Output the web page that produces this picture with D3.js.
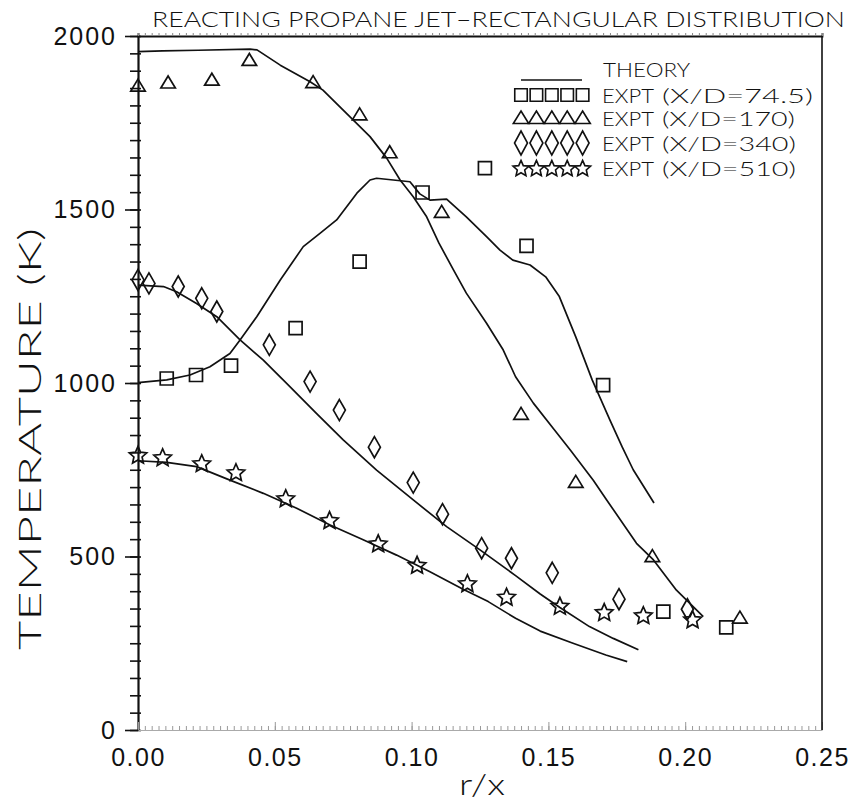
<!DOCTYPE html>
<html>
<head>
<meta charset="utf-8">
<script src="https://cdn.jsdelivr.net/npm/d3@7"></script>
<style>
  body { margin: 0; background: #fff; }
  svg { display: block; font-family: "Lato", "Liberation Sans", Arial, sans-serif; font-weight: 300; }
</style>
</head>
<body>
<svg id="chart"></svg>
<script>
// theory curves (r/x, temperature K)
var rTheory745 = [0, 0.0105, 0.019, 0.0263, 0.0336, 0.0373, 0.0434, 0.052, 0.0604, 0.0665, 0.0726, 0.080, 0.0848, 0.0872, 0.0933, 0.0994, 0.103, 0.1067, 0.1128, 0.120, 0.1274, 0.1323, 0.137, 0.1433, 0.149, 0.154, 0.160, 0.166, 0.1725, 0.177, 0.181, 0.1886];
var tTheory745 = [1001, 1009, 1023, 1047, 1085, 1124, 1191, 1297, 1393, 1431, 1470, 1547, 1585, 1590, 1585, 1580, 1545, 1527, 1530, 1479, 1422, 1383, 1354, 1340, 1306, 1249, 1133, 1009, 893, 815, 750, 654];

var rTheory170 = [0, 0.009, 0.022, 0.041, 0.0435, 0.052, 0.0629, 0.0676, 0.0775, 0.0848, 0.0909, 0.0958, 0.1006, 0.1055, 0.110, 0.1153, 0.120, 0.1274, 0.1335, 0.138, 0.1445, 0.1518, 0.158, 0.1664, 0.1713, 0.1822, 0.1884, 0.1968, 0.2066];
var tTheory170 = [1955, 1957, 1959, 1962, 1960, 1916, 1868, 1844, 1767, 1710, 1648, 1585, 1537, 1479, 1403, 1326, 1259, 1172, 1095, 1018, 942, 869, 807, 720, 663, 538, 490, 403, 327];

var rTheory340 = [0, 0.0093, 0.0141, 0.0214, 0.0288, 0.0373, 0.0458, 0.0556, 0.0653, 0.075, 0.0872, 0.1006, 0.1128, 0.125, 0.138, 0.147, 0.1542, 0.165, 0.1737, 0.1829];
var tTheory340 = [1282, 1278, 1263, 1229, 1191, 1124, 1066, 989, 912, 836, 749, 663, 586, 519, 445, 392, 353, 298, 264, 231];

var rTheory510 = [0, 0.0105, 0.0214, 0.0336, 0.0458, 0.058, 0.0702, 0.0823, 0.0945, 0.1067, 0.119, 0.128, 0.138, 0.147, 0.159, 0.171, 0.1788];
var tTheory510 = [776, 771, 759, 720, 682, 639, 591, 548, 504, 456, 405, 370, 322, 285, 250, 216, 197];

// experiments
var rExpt745 = [0.0105, 0.0212, 0.034, 0.0576, 0.081, 0.104, 0.1268, 0.142, 0.170, 0.192, 0.215];
var tExpt745 = [1013, 1023, 1050, 1158, 1350, 1549, 1619, 1395, 994, 341, 296];

var rExpt170 = [0, 0.011, 0.027, 0.0407, 0.064, 0.081, 0.092, 0.111, 0.140, 0.160, 0.188, 0.220];
var tExpt170 = [1855, 1864, 1872, 1929, 1865, 1772, 1663, 1491, 909, 713, 499, 322];

var rExpt340 = [0, 0.004, 0.0147, 0.0233, 0.0288, 0.048, 0.0629, 0.0736, 0.0864, 0.1006, 0.1113, 0.1256, 0.1365, 0.1514, 0.1758, 0.2008];
var tExpt340 = [1297, 1287, 1278, 1244, 1206, 1110, 1004, 922, 815, 713, 622, 524, 495, 453, 377, 348];

var rExpt510 = [0, 0.009, 0.0233, 0.0358, 0.054, 0.070, 0.0878, 0.102, 0.1204, 0.1347, 0.1542, 0.1704, 0.1847, 0.2027];
var tExpt510 = [793, 786, 769, 743, 668, 605, 538, 476, 423, 384, 358, 340, 331, 319];

var xTicks = [0, 0.05, 0.10, 0.15, 0.20, 0.25];
var yTicks = [0, 500, 1000, 1500, 2000];
var legendLabels = ["(X/D=74.5)", "(X/D=170)", "(X/D=340)", "(X/D=510)"];

var svgWidth = 852, svgHeight = 804;
var svg = d3.select('#chart')
    .attr("width", svgWidth)
    .attr("height", svgHeight);

var x = d3.scaleLinear().domain([0, 0.25]).range([138, 822]);
var y = d3.scaleLinear().domain([0, 2000]).range([730, 36]);

// symbol paths
function squarePath(s) {
    var h = s / 2;
    return "M" + (-h) + "," + (-h) + "H" + h + "V" + h + "H" + (-h) + "Z";
}
function trianglePath(w, h) {
    return "M0," + (-h * 0.6) + "L" + (w / 2) + "," + (h * 0.4) + "L" + (-w / 2) + "," + (h * 0.4) + "Z";
}
function diamondPath(w, h) {
    return "M0," + (-h / 2) + "L" + (w / 2) + ",0L0," + (h / 2) + "L" + (-w / 2) + ",0Z";
}
function starPath(R, rIn) {
    var p = [];
    for (var i = 0; i < 10; i++) {
        var a = -Math.PI / 2 + i * Math.PI / 5;
        var rr = i % 2 ? rIn : R;
        p.push([(rr * Math.cos(a)).toFixed(2), (rr * Math.sin(a) + 0.8).toFixed(2)]);
    }
    return "M" + p.join("L") + "Z";
}

var series = [
    { r: rExpt745, t: tExpt745, sym: squarePath(13), leg: squarePath(12.5) },
    { r: rExpt170, t: tExpt170, sym: trianglePath(14.5, 12), leg: trianglePath(15.4, 12.5) },
    { r: rExpt340, t: tExpt340, sym: diamondPath(12, 21), leg: diamondPath(13, 24) },
    { r: rExpt510, t: tExpt510, sym: starPath(9.2, 4.3), leg: starPath(8.4, 3.9) }
];
var theory = [
    d3.zip(rTheory745, tTheory745),
    d3.zip(rTheory170, tTheory170),
    d3.zip(rTheory340, tTheory340),
    d3.zip(rTheory510, tTheory510)
];

// axes
var yMinor = d3.range(0, 2001, 50);
svg.append("g").attr("transform", "translate(138,0)")
    .call(d3.axisLeft(y).tickValues(yMinor).tickSize(8).tickFormat(""))
    .call(function (g) { g.select(".domain").remove(); });
svg.append("g").attr("transform", "translate(138,0)")
    .call(d3.axisRight(y).tickValues(yMinor).tickSize(3).tickFormat(""))
    .call(function (g) { g.select(".domain").remove(); });
svg.append("g").attr("class", "yaxis").attr("transform", "translate(138,0)")
    .call(d3.axisLeft(y).tickValues(yTicks).tickSize(13).tickPadding(8).tickSizeOuter(0)
        .tickFormat(d3.format("d")));
svg.selectAll(".yaxis text")
    .attr("font-size", 25)
    .attr("letter-spacing", 2)
    .attr("font-family", null)
    .attr("fill", "#111");
svg.selectAll("g .tick line").attr("stroke", "#111").attr("stroke-width", 1.6);
svg.select(".yaxis .domain").attr("stroke", "#111").attr("stroke-width", 2.2);

var xMinor = d3.range(0, 0.2501, 0.0025);
svg.append("g").attr("class", "xminor").attr("transform", "translate(0,730)")
    .call(d3.axisBottom(x).tickValues(xMinor).tickSize(-4).tickFormat(""))
    .call(function (g) { g.select(".domain").remove(); });
svg.append("g").attr("class", "xaxis").attr("transform", "translate(0,730)")
    .call(d3.axisBottom(x).tickValues(xTicks).tickSize(-8).tickPadding(18).tickSizeOuter(0)
        .tickFormat(d3.format(".2f")));
svg.selectAll(".xminor line, .xaxis line").attr("stroke", "#999").attr("stroke-width", 1);
svg.select(".xaxis .domain").attr("stroke", "#aaa").attr("stroke-width", 1);
svg.selectAll(".xaxis text")
    .attr("font-size", 25)
    .attr("letter-spacing", 1.5)
    .attr("font-family", null)
    .attr("fill", "#111");

svg.append("g").attr("class", "xtop").attr("transform", "translate(0,36)")
    .call(d3.axisTop(x).tickValues(xMinor).tickSize(3).tickFormat(""))
    .call(function (g) { g.select(".domain").attr("stroke", "#111").attr("stroke-width", 1.8); });
svg.selectAll(".xtop line").attr("stroke", "#888").attr("stroke-width", 1);

// right border
svg.append("line")
    .attr("x1", x(0.25)).attr("x2", x(0.25))
    .attr("y1", y(2000)).attr("y2", y(0))
    .attr("stroke", "#111").attr("stroke-width", 1.6);

// theory lines
var line = d3.line()
    .x(function (d) { return x(d[0]); })
    .y(function (d) { return y(d[1]); });

svg.append("g").selectAll("path")
    .data(theory)
    .enter()
    .append("path")
    .attr("d", line)
    .attr("fill", "none")
    .attr("stroke", "#111")
    .attr("stroke-width", 1.7)
    .attr("stroke-linejoin", "round");

// experimental markers
series.forEach(function (s) {
    svg.append("g").selectAll("path")
        .data(d3.zip(s.r, s.t))
        .enter()
        .append("path")
        .attr("transform", function (d) { return "translate(" + x(d[0]) + "," + y(d[1]) + ")"; })
        .attr("d", s.sym)
        .attr("fill", "none")
        .attr("stroke", "#111")
        .attr("stroke-width", 1.7)
        .attr("stroke-linejoin", "miter");
});

// legend
var legend = svg.append("g");
legend.append("line")
    .attr("x1", 521).attr("x2", 582).attr("y1", 80).attr("y2", 80)
    .attr("stroke", "#111").attr("stroke-width", 1.6);
legend.append("text")
    .attr("x", 603).attr("y", 77)
    .attr("font-size", 19.5).attr("textLength", 87).attr("lengthAdjust", "spacingAndGlyphs")
    .attr("fill", "#111")
    .text("THEORY");

var rowY = [95, 118.5, 143, 168];
var parenWidth = [151, 133, 134, 134];
series.forEach(function (s, i) {
    for (var k = 0; k < 5; k++) {
        legend.append("path")
            .attr("transform", "translate(" + (521 + k * 15.4) + "," + rowY[i] + ")")
            .attr("d", s.leg)
            .attr("fill", "none")
            .attr("stroke", "#111")
            .attr("stroke-width", 1.6);
    }
    legend.append("text")
        .attr("x", 602).attr("y", rowY[i] + 7.5)
        .attr("font-size", 19.5).attr("textLength", 52).attr("lengthAdjust", "spacingAndGlyphs")
        .attr("fill", "#111")
        .text("EXPT");
    legend.append("text")
        .attr("x", 662).attr("y", rowY[i] + 7.5)
        .attr("font-size", 19.5).attr("textLength", parenWidth[i]).attr("lengthAdjust", "spacingAndGlyphs")
        .attr("fill", "#111")
        .text(legendLabels[i]);
});

// title and axis titles
svg.append("text")
    .attr("x", 152).attr("y", 27)
    .attr("font-size", 22)
    .attr("textLength", 693).attr("lengthAdjust", "spacingAndGlyphs")
    .attr("fill", "#111")
    .text("REACTING PROPANE JET\u2013RECTANGULAR DISTRIBUTION");

svg.append("text")
    .attr("transform", "translate(41,439) rotate(-90)")
    .attr("text-anchor", "middle")
    .attr("font-size", 32)
    .attr("textLength", 422).attr("lengthAdjust", "spacingAndGlyphs")
    .attr("fill", "#111")
    .text("TEMPERATURE (K)");

svg.append("text")
    .attr("x", 482).attr("y", 795)
    .attr("text-anchor", "middle")
    .attr("font-size", 30)
    .attr("textLength", 46).attr("lengthAdjust", "spacingAndGlyphs")
    .attr("fill", "#111")
    .text("r/x");
</script>
</body>
</html>
